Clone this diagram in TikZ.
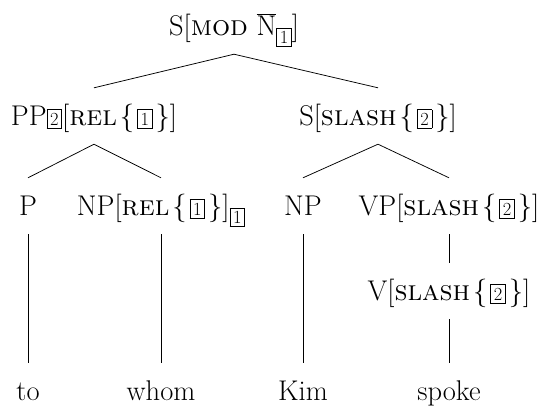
\documentclass[tikz,border=0pt]{standalone}
\usepackage{fix-cm}
\usepackage{fontspec}
\newcommand{\tagbox}[1]{{\setlength{\fboxsep}{2.8pt}\setlength{\fboxrule}{0.7pt}\fbox{\fontsize{18.5}{18.5}\selectfont #1}}}
\newcommand{\lowtag}[1]{\raisebox{-0.3em}{\tagbox{#1}}}
\begin{document}
\begin{tikzpicture}[x=1pt,y=-1pt,
  lbl/.style={anchor=base,inner xsep=0pt,inner ysep=10pt,text height=27pt,text depth=9pt,font=\fontsize{28.5}{34}\selectfont},
  branch/.style={line width=0.75pt}]
\useasboundingbox (0,0) rectangle (542,408);
% nodes
\node[lbl] (root) at (234,35) {S[\textsc{mod} $\overline{\mbox{N}}$\lowtag{1}]};
\node[lbl] (pp) at (94,125) {PP\tagbox{2}[\textsc{rel}\hspace{3pt}\{\hspace{3pt}\tagbox{1}\hspace{3pt}\}]};
\node[lbl] (s) at (378,125) {S[\textsc{slash}\hspace{3pt}\{\hspace{3pt}\tagbox{2}\hspace{3pt}\}]};
\node[lbl] (p) at (28,215) {P};
\node[lbl] (np) at (161,215) {NP[\textsc{rel}\hspace{3pt}\{\hspace{3pt}\tagbox{1}\hspace{3pt}\}]\lowtag{1}};
\node[lbl] (npk) at (303,215) {NP};
\node[lbl] (vp) at (449,215) {VP[\textsc{slash}\hspace{3pt}\{\hspace{3pt}\tagbox{2}\hspace{3pt}\}]};
\node[lbl] (v) at (449,300) {V[\textsc{slash}\hspace{3pt}\{\hspace{3pt}\tagbox{2}\hspace{3pt}\}]};
\node[lbl] (to) at (28,400) {to};
\node[lbl] (whom) at (161,400) {whom};
\node[lbl] (kim) at (303,400) {Kim};
\node[lbl] (spoke) at (449,400) {spoke};
% branches
\draw[branch] (root.south) -- (pp.north);
\draw[branch] (root.south) -- (s.north);
\draw[branch] (pp.south) -- (p.north);
\draw[branch] (pp.south) -- (np.north);
\draw[branch] (s.south) -- (npk.north);
\draw[branch] (s.south) -- (vp.north);
\draw[branch] (p.south) -- (to.north);
\draw[branch] (np.south) -- (whom.north);
\draw[branch] (npk.south) -- (kim.north);
\draw[branch] (vp.south) -- (v.north);
\draw[branch] (v.south) -- (spoke.north);
\end{tikzpicture}
\end{document}
